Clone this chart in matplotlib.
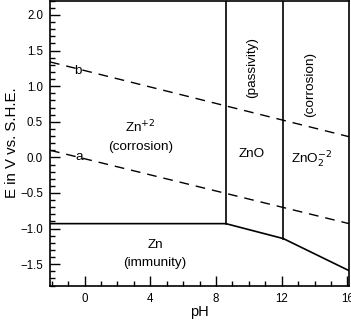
import matplotlib.pyplot as plt
import numpy as np

plt.rcParams['font.family'] = ['Liberation Sans', 'DejaVu Sans']

# Zn / water Pourbaix diagram
zn_ph = [-2.1, 8.6, 12.1, 16.1]
zn_E = [-0.93, -0.93, -1.14, -1.59]
wall_ph = [8.6, 12.1]
wall_E = [-0.93, -1.14]
water_ph = [-2.1, 16.1]
line_a = [0.10, -0.93]
line_b = [1.34, 0.29]

fig = plt.figure(figsize=(3.51, 3.22), dpi=100)
ax = fig.add_axes([0.1425, 0.113, 0.852, 0.885])

ax.plot(zn_ph, zn_E, color='black', lw=1.2)
for p, e in zip(wall_ph, wall_E):
    ax.plot([p, p], [e, 2.3], color='black', lw=1.2)
ax.plot(water_ph, line_a, color='black', lw=1.0, dashes=(7, 5))
ax.plot(water_ph, line_b, color='black', lw=1.0, dashes=(7, 5))

fs = 9.7
ax.text(-0.4, 1.21, 'b', fontsize=fs, ha='center', va='center')
ax.text(-0.3, 0.0, 'a', fontsize=fs, ha='center', va='center')
ax.text(3.4, 0.43, 'Zn$^{+2}$', fontsize=fs, ha='center', va='center')
ax.text(3.4, 0.14, '(corrosion)', fontsize=fs, ha='center', va='center')
ax.text(4.3, -1.23, 'Zn', fontsize=fs, ha='center', va='center')
ax.text(4.3, -1.48, '(immunity)', fontsize=fs, ha='center', va='center')
ax.text(10.2, 0.05, 'ZnO', fontsize=fs, ha='center', va='center')
ax.text(13.8, -0.04, 'ZnO$_2^{-2}$', fontsize=fs, ha='center', va='center')
ax.text(10.2, 1.26, '(passivity)', fontsize=fs, ha='center', va='center', rotation=90)
ax.text(13.7, 1.02, '(corrosion)', fontsize=fs, ha='center', va='center', rotation=90)

ax.set_xlim(-2.1, 16.1)
ax.set_ylim(-1.8, 2.2)
ax.set_xticks([0, 4, 8, 12, 16])
ax.set_xticks(np.arange(-2, 17, 1), minor=True)
ax.set_yticks([-1.5, -1.0, -0.5, 0.0, 0.5, 1.0, 1.5, 2.0])
ax.set_yticks(np.arange(-1.8, 2.21, 0.1), minor=True)
ax.set_yticklabels(['\u22121.5', '\u22121.0', '\u22120.5', '0.0', '0.5', '1.0', '1.5', '2.0'])
ax.tick_params(which='both', direction='in', labelsize=8.3, width=1)
ax.tick_params(which='major', length=7)
ax.tick_params(which='minor', length=3.5)
ax.tick_params(axis='x', pad=5)
ax.tick_params(axis='y', pad=5)
ax.set_xlabel('pH', fontsize=10.5, labelpad=0)
ax.set_ylabel('E in V vs. S.H.E.', fontsize=10.8, labelpad=1)
for s in ax.spines.values():
    s.set_linewidth(1.2)

fig.savefig('out.png', dpi=100)
